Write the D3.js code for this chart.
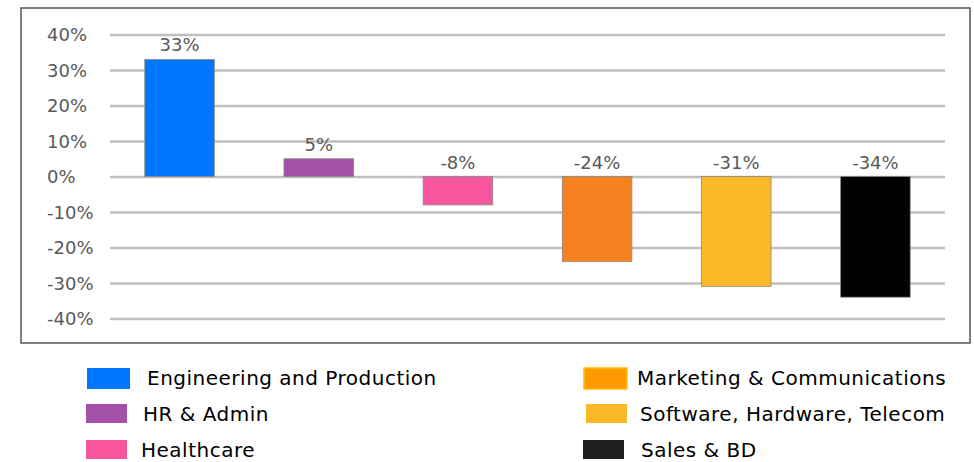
<!DOCTYPE html>
<html lang="en">
<head>
<meta charset="utf-8">
<title>Change by sector</title>
<script src="https://cdn.jsdelivr.net/npm/d3@7"></script>
<style>
  body { margin: 0; background: #fff; }
  .tick text, .val { font-family: "DejaVu Sans", sans-serif; fill: #595959; }
  .leg { font-family: "DejaVu Sans", sans-serif; fill: #000; letter-spacing: 0.5px; }
</style>
</head>
<body>
<script>
// data
var sectors = ["Engineering and Production", "HR & Admin", "Healthcare",
               "Marketing & Communications", "Software, Hardware, Telecom", "Sales & BD"];
var change = [33, 5, -8, -24, -31, -34];
var colors = ["#0077FF", "#A450A8", "#F7559D", "#F5821F", "#FBB829", "#000000"];
var legColors = ["#0077FF", "#A450A8", "#F7559D", "#FF9900", "#FBB829", "#1F1F1F"];
var yTicks = [-40, -30, -20, -10, 0, 10, 20, 30, 40];

var w = 974, h = 462;

var svg = d3.select("body").append("svg")
  .attr("width", w)
  .attr("height", h);

// frame
svg.append("rect")
  .attr("x", 21).attr("y", 8)
  .attr("width", 949).attr("height", 335)
  .attr("fill", "none")
  .attr("stroke", "#555")
  .attr("stroke-width", 1.5);

var x = d3.scaleBand()
  .domain(sectors)
  .range([110, 945])
  .paddingInner(0.5)
  .paddingOuter(0.25);

var y = d3.scaleLinear()
  .domain([-40, 40])
  .range([318.5, 34.5]);

// grid + labels
var yAxis = d3.axisLeft(y)
  .tickValues(yTicks)
  .tickSize(-835)
  .tickPadding(0)
  .tickFormat(function(d) { return d + "%"; });

var ga = svg.append("g")
  .attr("transform", "translate(110,0)")
  .call(yAxis);
ga.select(".domain").remove();
ga.selectAll(".tick line")
  .attr("stroke", "#BFBFBF")
  .attr("stroke-width", 2.5);
ga.selectAll(".tick text")
  .attr("x", -63)
  .attr("text-anchor", "start")
  .attr("dy", "0.36em")
  .style("font-size", "18px");

// bars
svg.selectAll("rect.bar")
  .data(change)
  .enter()
  .append("rect")
  .attr("class", "bar")
  .attr("x", function(d, i) { return x(sectors[i]); })
  .attr("y", function(d) { return y(Math.max(d, 0)); })
  .attr("width", x.bandwidth())
  .attr("height", function(d) { return Math.abs(y(d) - y(0)); })
  .attr("fill", function(d, i) { return colors[i]; })
  .attr("stroke", "#8a8a8a")
  .attr("stroke-width", 0.8);

// value labels
svg.selectAll("text.val")
  .data(change)
  .enter()
  .append("text")
  .attr("class", "val")
  .attr("x", function(d, i) { return x(sectors[i]) + x.bandwidth() / 2; })
  .attr("y", function(d) { return Math.min(y(d), y(0)) - 8; })
  .attr("text-anchor", "middle")
  .style("font-size", "18px")
  .text(function(d) { return d + "%"; });

// legend (two columns of three, slightly uneven like the original)
var legX = [87, 86, 86, 584, 586, 583];
var legTextX = [147, 143, 141, 637, 640, 641];
var legY = [368, 404, 440];

var leg = svg.selectAll("g.legend")
  .data(sectors)
  .enter()
  .append("g")
  .attr("class", "legend")
  .attr("transform", function(d, i) {
    return "translate(0," + legY[i % 3] + ")";
  });

leg.append("rect")
  .attr("x", function(d, i) { return legX[i]; })
  .attr("y", 0)
  .attr("width", function(d, i) { return i == 0 || i == 3 ? 43 : 41; })
  .attr("height", function(d, i) { return i == 0 || i == 3 ? 21 : 19; })
  .attr("fill", function(d, i) { return legColors[i]; })
  .attr("stroke", function(d, i) { return i == 3 ? "#FFC000" : "none"; })
  .attr("stroke-width", 1.5);

leg.append("text")
  .attr("class", "leg")
  .attr("x", function(d, i) { return legTextX[i]; })
  .attr("y", 17)
  .style("font-size", "20px")
  .text(function(d) { return d; });
</script>
</body>
</html>
